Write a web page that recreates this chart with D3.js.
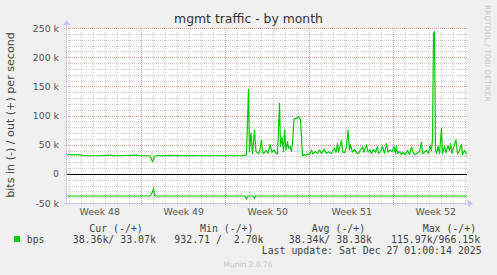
<!DOCTYPE html>
<html>
<head>
<meta charset="utf-8">
<script src="https://cdn.jsdelivr.net/npm/d3@7"></script>
<style>
  html, body { margin: 0; padding: 0; background: #f0f0f0; }
  svg { display: block; }
  text { font-family: "DejaVu Sans", sans-serif; }
  .mono { font-family: "DejaVu Sans Mono", monospace; white-space: pre; }
</style>
</head>
<body>
<svg id="chart" width="497" height="275"></svg>
<script>
// munin month graph = 800 hours back from the end of the window
const graphEnd = Date.UTC(2025, 11, 27, 3, 24);
const graphHours = 800;

// out (+) traffic, hours from window start / kbit per second
const outHours = [0, 26, 36, 66, 86, 96, 140, 146, 166, 171, 176, 206, 266, 326, 350, 356, 359,
  363, 365, 368, 371, 375, 378, 382, 385, 389, 391, 394, 398, 402, 406, 410, 414, 417, 421,
  425, 427, 430, 433, 435, 438, 441, 443, 446, 449, 451, 454, 458, 463, 467, 471, 474, 478,
  482, 485, 489, 491, 494, 497, 501, 505, 509, 514, 519, 523, 529, 533, 535, 538, 541, 543,
  546, 549, 551, 555, 559, 562, 565, 567, 571, 575, 579, 583, 587, 591, 594, 599, 602, 606,
  609, 613, 617, 621, 623, 627, 631, 635, 639, 642, 646, 650, 654, 657, 659, 661, 665, 669,
  673, 677, 681, 685, 689, 693, 697, 701, 705, 709, 711, 715, 719, 723, 726, 729, 731, 733,
  735, 737, 739, 742, 745, 749, 751, 755, 758, 762, 765, 767, 770, 774, 778, 781, 785, 789,
  791, 795, 799];
const outValues = [33, 32.5, 31, 31, 32, 31, 32, 31, 31, 21, 31, 31.5, 31, 31, 31, 32, 33,
  145, 38, 70, 35, 75, 38, 35, 37, 58, 37, 35, 40, 35, 50, 37, 41, 36, 34,
  121, 47, 62, 38, 75, 41, 55, 44, 47, 38, 52, 94, 95, 98, 93, 31, 33, 32,
  34, 33, 41, 34, 36, 38, 35, 41, 35, 42, 35, 38, 35, 42, 44, 37, 52, 37,
  47, 57, 38, 36, 47, 75, 41, 50, 37, 42, 36, 35, 41, 46, 37, 50, 37, 41,
  35, 42, 37, 47, 35, 38, 47, 35, 52, 37, 41, 38, 47, 35, 48, 35, 38, 33,
  37, 33, 40, 33, 46, 35, 33, 36, 38, 54, 35, 37, 40, 35, 48, 40, 60, 240,
  244, 40, 35, 47, 34, 78, 34, 47, 36, 48, 40, 52, 35, 48, 58, 34, 40, 50,
  33, 40, 34];

// in (-) traffic
const inHours = [0, 166, 170, 173, 175, 178, 356, 359, 362, 372, 375, 377, 800];
const inValues = [-38, -38, -33, -26, -37, -38, -38, -43, -38, -38, -42, -38, -38];

const yTicks = [-50, 0, 50, 100, 150, 200, 250];
const legendHeads = ['Cur (-/+)', 'Min (-/+)', 'Avg (-/+)', 'Max (-/+)'];
const legendValues = ['38.36k/ 33.07k', '932.71 /  2.70k', '38.34k/ 38.38k', '115.97k/966.15k'];
const lastUpdate = 'Last update: Sat Dec 27 01:00:14 2025';

const W = 497, H = 275;
const plot = { left: 67, right: 467, top: 28, bottom: 203 };
const green = '#00cc00';
const axisColor = '#c4c8f0';

const svg = d3.select('#chart');
svg.append('rect').attr('width', W).attr('height', H).attr('fill', '#f0f0f0');

const start = graphEnd - graphHours * 3600e3;
const x = d3.scaleUtc().domain([start, graphEnd]).range([plot.left, plot.right]);
const y = d3.scaleLinear().domain([-50, 250]).range([plot.bottom, plot.top]);

svg.append('rect')
  .attr('x', plot.left).attr('y', plot.top)
  .attr('width', plot.right - plot.left).attr('height', plot.bottom - plot.top)
  .attr('fill', '#fff');

// grid
const minorY = d3.range(-50, 251, 10).filter(v => v % 50 !== 0);
const days = d3.utcDay.range(new Date(start), new Date(graphEnd));
const sundays = d3.utcSunday.range(new Date(start), new Date(graphEnd));
const minorX = days.filter(d => d.getUTCDay() !== 0);

const grid = svg.append('g').attr('shape-rendering', 'crispEdges');
grid.selectAll('.hmin').data(minorY).enter().append('line')
  .attr('x1', plot.left - 3).attr('x2', plot.right)
  .attr('y1', d => Math.round(y(d)) + 0.5).attr('y2', d => Math.round(y(d)) + 0.5)
  .attr('stroke', '#cfcfcf').attr('stroke-dasharray', '1,1');
grid.selectAll('.vmin').data(minorX).enter().append('line')
  .attr('x1', d => Math.round(x(d)) + 0.5).attr('x2', d => Math.round(x(d)) + 0.5)
  .attr('y1', plot.top).attr('y2', plot.bottom + 3)
  .attr('stroke', '#cfcfcf').attr('stroke-dasharray', '1,1');
grid.selectAll('.hmaj').data(yTicks).enter().append('line')
  .attr('x1', plot.left - 3).attr('x2', plot.right)
  .attr('y1', d => Math.round(y(d)) + 0.5).attr('y2', d => Math.round(y(d)) + 0.5)
  .attr('stroke', '#e39a9a').attr('stroke-dasharray', '1,1');
grid.selectAll('.vmaj').data(sundays).enter().append('line')
  .attr('x1', d => Math.round(x(d)) + 0.5).attr('x2', d => Math.round(x(d)) + 0.5)
  .attr('y1', plot.top).attr('y2', plot.bottom + 3)
  .attr('stroke', '#e39a9a').attr('stroke-dasharray', '1,1');

// axes
const yAxis = d3.axisLeft(y).tickValues(yTicks).tickSize(0).tickPadding(8)
  .tickFormat(v => (v === 0 ? '0' : `${v} k`));
const yAxisG = svg.append('g').attr('transform', `translate(${plot.left},0)`).call(yAxis);
yAxisG.select('.domain').remove();
yAxisG.selectAll('text').attr('fill', '#555').style('font-size', '9.33px')
  .style('font-family', '"DejaVu Sans", sans-serif');

const weekMids = sundays.map(d => d3.utcHour.offset(d, 84))
  .concat([d3.utcHour.offset(d3.utcSunday.floor(new Date(start)), 84)])
  .filter(d => x(d) > plot.left && x(d) < plot.right);
const xAxis = d3.axisBottom(x).tickValues(weekMids).tickSize(0).tickPadding(5.5)
  .tickFormat(d3.utcFormat('Week %V'));
const xAxisG = svg.append('g').attr('transform', `translate(0,${plot.bottom})`).call(xAxis);
xAxisG.select('.domain').remove();
xAxisG.selectAll('text').attr('fill', '#555').style('font-size', '9.33px')
  .style('font-family', '"DejaVu Sans", sans-serif');

// zero rule
svg.append('line')
  .attr('x1', plot.left).attr('x2', plot.right)
  .attr('y1', Math.round(y(0)) + 0.5).attr('y2', Math.round(y(0)) + 0.5)
  .attr('stroke', '#000').attr('shape-rendering', 'crispEdges');

// axis lines with arrows
svg.append('line').attr('x1', plot.left - 0.5).attr('x2', plot.left - 0.5)
  .attr('y1', plot.bottom + 3).attr('y2', plot.top - 5).attr('stroke', axisColor);
svg.append('path').attr('d', `M${plot.left - 4},${plot.top - 3}L${plot.left + 3},${plot.top - 3}L${plot.left - 0.5},${plot.top - 8}Z`)
  .attr('fill', axisColor);
svg.append('line').attr('x1', plot.left - 3).attr('x2', plot.right + 3)
  .attr('y1', plot.bottom + 0.5).attr('y2', plot.bottom + 0.5).attr('stroke', axisColor);
svg.append('path').attr('d', `M${plot.right + 1},${plot.bottom - 3}L${plot.right + 1},${plot.bottom + 4}L${plot.right + 6},${plot.bottom + 0.5}Z`)
  .attr('fill', axisColor);

// series
const toPoints = (hours, values) => hours.map((h, i) => [start + h * 3600e3, values[i]]);
const line = d3.line().x(d => x(d[0])).y(d => y(d[1]));
svg.append('path').datum(toPoints(inHours, inValues))
  .attr('d', line).attr('fill', 'none').attr('stroke', green).attr('stroke-width', 1.2);
svg.append('path').datum(toPoints(outHours, outValues))
  .attr('d', line).attr('fill', 'none').attr('stroke', green).attr('stroke-width', 1.2)
  .attr('stroke-linejoin', 'round');

// titles
svg.append('text').attr('x', 248.5).attr('y', 23).attr('text-anchor', 'middle')
  .attr('fill', '#333').style('font-size', '12.4px').text('mgmt traffic - by month');
svg.append('text').attr('transform', 'translate(13.7,115) rotate(-90)').attr('text-anchor', 'middle')
  .attr('fill', '#444').style('font-size', '11.1px').text('bits in (-) / out (+) per second');
svg.append('text').attr('transform', 'translate(485,5) rotate(90)')
  .attr('fill', '#c8c8c8').style('font-size', '7.5px').text('RRDTOOL / TOBI OETIKER');

// legend
const headX = [89.3, 200, 311.7, 422.7];
const valueX = [72.7, 174.3, 288.7, 391];
svg.selectAll('.lhead').data(legendHeads).enter().append('text')
  .attr('class', 'mono').attr('x', (d, i) => headX[i]).attr('y', 231.5)
  .attr('fill', '#444').style('font-size', '9.9px').text(d => d);
svg.append('rect').attr('x', 14).attr('y', 236).attr('width', 6).attr('height', 6).attr('fill', green);
svg.append('text').attr('class', 'mono').attr('x', 26.7).attr('y', 242.8)
  .attr('fill', '#444').style('font-size', '9.9px').text('bps');
svg.selectAll('.lval').data(legendValues).enter().append('text')
  .attr('class', 'mono').attr('x', (d, i) => valueX[i]).attr('y', 242.8)
  .attr('fill', '#444').style('font-size', '9.9px').text(d => d);
svg.append('text').attr('class', 'mono').attr('x', 261.7).attr('y', 254.4)
  .attr('fill', '#444').style('font-size', '9.9px').text(lastUpdate);
svg.append('text').attr('x', 248).attr('y', 266.5).attr('text-anchor', 'middle')
  .attr('fill', '#c8c8c8').style('font-size', '7.5px').text('Munin 2.0.76');
</script>
</body>
</html>
